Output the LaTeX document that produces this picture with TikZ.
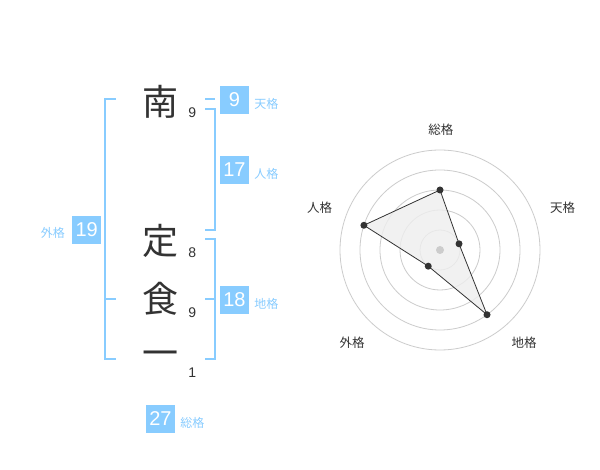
\documentclass[tikz,border=0pt]{standalone}
\usepackage{fontspec}
\setmainfont{Liberation Sans}
\newfontfamily\jp{Noto Sans CJK JP}
\usetikzlibrary{positioning}
\definecolor{kaku}{HTML}{88CCFF}
\definecolor{ink}{HTML}{333333}
\definecolor{ringgray}{HTML}{CCCCCC}
\definecolor{polyfill}{HTML}{EEEEEE}
\tikzset{
    kanji/.style={font=\jp\fontsize{36}{36}\selectfont, text=ink, inner sep=0pt},
    strokes/.style={font=\fontsize{14}{14}\selectfont, text=ink, inner sep=0pt},
    kakubox/.style={
        fill=kaku, text=white, inner sep=0pt,
        minimum width=29pt, minimum height=28pt,
        font=\fontsize{20}{20}\selectfont
    },
    kakulbl/.style={text=kaku, font=\jp\fontsize{12}{12}\selectfont, inner sep=0pt},
    bracket/.style={draw=kaku, line width=2pt},
    ring/.style={draw=ringgray, line width=0.8pt},
    axislbl/.style={text=ink, font=\jp\fontsize{12.5}{12.5}\selectfont, inner sep=0pt},
    dot/.style={circle, fill=ink, inner sep=0pt, minimum size=7pt}
}
\begin{document}
\begin{tikzpicture}[x=1pt, y=-1pt]

\useasboundingbox[fill=white] (0,0) rectangle (600,470);

% ===============================
%          name (left)
% ===============================

\node[kanji] (nan) at (160,101.7) {南};
\node[kanji] (tei) at (160,241) {定};
\node[kanji] (shoku) at (160,299) {食};
\node[kanji] (ichi) at (160,359) {一};

\node[strokes] (s1) at (192.3,112.7) {9};
\node[strokes] (s2) at (192.3,252.7) {8};
\node[strokes] (s3) at (192.3,312.7) {9};
\node[strokes] (s4) at (192.3,372.7) {1};

% ===============================
%        brackets and boxes
% ===============================

\draw[bracket] (115.7,99.3) -| (105,359.3) -- (115.7,359.3);
\draw[bracket] (105,299.3) -- (115.7,299.3);

\draw[bracket] (205,99.3) -- (215,99.3);
\draw[bracket] (205,109.3) -| (215,229.7) -- (205,229.7);
\draw[bracket] (205,239.3) -| (215,359.3) -- (205,359.3);
\draw[bracket] (205,299.3) -- (215,299.3);

\node[kakubox] (ten) at (234.5,100) {9};
\node[kakubox] (jin) at (234.5,170) {17};
\node[kakubox] (chi) at (234.5,300) {18};
\node[kakubox] (gai) at (86.7,230) {19};
\node[kakubox] (sou) at (160.5,419) {27};

\node[kakulbl, right=5pt of ten, yshift=-4pt] (tenlbl) {天格};
\node[kakulbl, right=5pt of jin, yshift=-4pt] (jinlbl) {人格};
\node[kakulbl, right=5pt of chi, yshift=-4pt] (chilbl) {地格};
\node[kakulbl, left=7pt of gai, yshift=-3pt] (gailbl) {外格};
\node[kakulbl, right=5pt of sou, yshift=-4pt] (soulbl) {総格};

% ===============================
%          radar (right)
% ===============================

\begin{scope}[shift={(440,250)}, y=1pt]
    \foreach \r in {20,40,60,80,100}
        \draw[ring] (0,0) circle[radius=\r pt];

    \coordinate (psou) at (90:60);
    \coordinate (pten) at (18:20);
    \coordinate (pchi) at (-54:80);
    \coordinate (pgai) at (-126:20);
    \coordinate (pjin) at (162:80);

    \draw[fill=polyfill, fill opacity=0.8, draw=ink, line width=0.8pt]
        (psou) -- (pten) -- (pchi) -- (pgai) -- (pjin) -- cycle;

    \node[circle, fill=ringgray, inner sep=0pt, minimum size=8pt] (ctr) at (0,0) {};

    \foreach \p in {psou,pten,pchi,pgai,pjin}
        \node[dot] (d\p) at (\p) {};
\end{scope}

\node[axislbl] (axsou) at (440.8,129.5) {総格};
\node[axislbl] (axten) at (562.5,208) {天格};
\node[axislbl] (axchi) at (524,342.5) {地格};
\node[axislbl] (axgai) at (352,342.5) {外格};
\node[axislbl] (axjin) at (319.5,208) {人格};

\end{tikzpicture}
\end{document}
